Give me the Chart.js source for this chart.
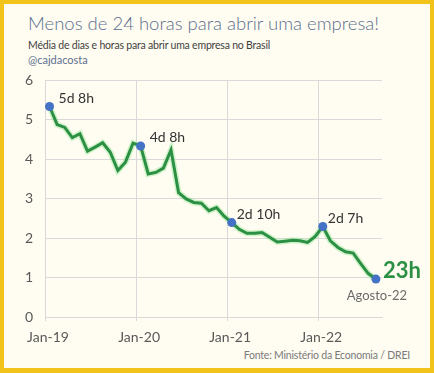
<!DOCTYPE html>
<html>
<head>
<meta charset="utf-8">
<script src="https://cdn.jsdelivr.net/npm/chart.js@4"></script>
<style>
  html, body { margin: 0; padding: 0; }
  body { width: 434px; height: 373px; overflow: hidden; font-family: Lato, "Open Sans", sans-serif; }
  #frame {
    position: absolute; left: 0; top: 0; width: 434px; height: 373px;
    box-sizing: border-box; border: 4px solid #F2C31B; border-bottom-width: 5px; background: #FFFCF1;
  }
  #wrap { position: absolute; left: 0; top: 0; width: 434px; height: 373px; }
  .txt { position: absolute; white-space: nowrap; line-height: 1; }
  #title { left: 28px; top: 14px; font-size: 18.5px; font-weight: 300; color: #5B6F8F; }
  #sub { left: 28px; top: 40px; font-size: 10.5px; color: #3F3F3F; letter-spacing: -0.2px; }
  #handle { left: 28px; top: 54px; font-size: 11px; color: #5B6F8F; }
  #src { right: 24px; top: 350px; font-size: 10.5px; color: #7A7A7A; letter-spacing: -0.2px; }
</style>
</head>
<body>
<div id="frame"></div>
<div class="txt" id="title">Menos de 24 horas para abrir uma empresa!</div>
<div class="txt" id="sub">Média de dias e horas para abrir uma empresa no Brasil</div>
<div class="txt" id="handle">@cajdacosta</div>
<div class="txt" id="src">Fonte: Ministério da Economia / DREI</div>
<div id="wrap"><canvas id="chart"></canvas></div>
<script>
// monthly average (days), Jan-19 .. Aug-22
const days = [
  5.33, 4.87, 4.80, 4.54, 4.64, 4.20, 4.30, 4.41, 4.17, 3.71, 3.92, 4.40,
  4.33, 3.62, 3.66, 3.77, 4.23, 3.15, 2.99, 2.90, 2.88, 2.69, 2.77, 2.55,
  2.39, 2.22, 2.12, 2.12, 2.14, 2.02, 1.90, 1.92, 1.94, 1.93, 1.89, 2.04,
  2.29, 1.93, 1.76, 1.65, 1.62, 1.35, 1.10, 0.96
];
const months = days.map((_, i) => i);

const tickMonths = [0, 12, 24, 36];
const tickLabels = ["Jan-19", "Jan-20", "Jan-21", "Jan-22"];

// highlighted points and their notes
const markIdx   = [0, 12, 24, 36];
const markNotes = ["5d 8h", "4d 8h", "2d 10h", "2d 7h"];
const lastNote  = "23h";
const lastLabel = "Agosto-22";

const green = "#2B9044";
const glow  = "rgba(150,230,150,0.45)";
const blue  = "#4472C4";
const grid  = "#D9D9D9";
const tickC = "#595959";
const FONT  = "Lato, 'Open Sans', sans-serif";

const pts = months.map((m, i) => ({ x: m, y: days[i] }));
const lastI = days.length - 1;
const isMark = (i) => markIdx.includes(i) || i === lastI;

const notes = {
  id: "notes",
  afterDatasetsDraw(chart) {
    const { ctx, scales: { x, y } } = chart;
    ctx.save();
    ctx.textBaseline = "middle";
    ctx.fillStyle = "#333";
    ctx.font = "14px " + FONT;
    markIdx.forEach((idx, k) => {
      const px = x.getPixelForValue(months[idx]);
      const py = y.getPixelForValue(days[idx]);
      const dx = k < 2 ? 9 : 5;
      ctx.textAlign = "left";
      ctx.fillText(markNotes[k], px + dx, py - 8);
    });
    const lx = x.getPixelForValue(months[lastI]);
    const ly = y.getPixelForValue(days[lastI]);
    ctx.font = "bold 22px " + FONT;
    ctx.fillStyle = green;
    ctx.fillText(lastNote, lx + 7, ly - 8);
    ctx.font = "13px " + FONT;
    ctx.fillStyle = "#6B6B6B";
    ctx.textAlign = "center";
    ctx.fillText(lastLabel, lx + 1, ly + 17);
    ctx.restore();
  }
};

new Chart(document.getElementById("chart"), {
  type: "line",
  data: {
    datasets: [
      {
        data: pts,
        borderColor: green,
        borderWidth: 3,
        tension: 0,
        pointRadius: pts.map((_, i) => (isMark(i) ? 4.5 : 0)),
        pointBackgroundColor: blue,
        pointBorderWidth: 0,
        order: 0,
      },
      {
        data: pts,
        borderColor: glow,
        borderWidth: 6,
        tension: 0,
        pointRadius: 0,
        order: 1,
      },
    ],
  },
  options: {
    responsive: true,
    maintainAspectRatio: false,
    animation: false,
    layout: { padding: { top: 80, right: 52, left: 0, bottom: 0 } },
    plugins: { legend: { display: false }, tooltip: { enabled: false } },
    scales: {
      x: {
        type: "linear",
        min: -0.6,
        max: 43.8,
        afterBuildTicks: (s) => { s.ticks = tickMonths.map((m) => ({ value: m - 0.6 })); },
        afterFit: (s) => { s.height = 56; },
        grid: { color: grid, tickLength: 4 },
        border: { color: grid },
        ticks: {
          color: tickC,
          font: { family: FONT, size: 14 },
          padding: 8,
          labelOffset: 3,
          maxRotation: 0,
          callback: (v, i) => tickLabels[i],
        },
      },
      y: {
        min: 0,
        max: 6,
        afterFit: (s) => { s.width = 45; },
        grid: { color: grid, drawTicks: false },
        border: { color: grid },
        ticks: {
          stepSize: 1,
          color: tickC,
          font: { family: FONT, size: 14 },
          padding: 12,
        },
      },
    },
  },
  plugins: [notes],
});
</script>
</body>
</html>
